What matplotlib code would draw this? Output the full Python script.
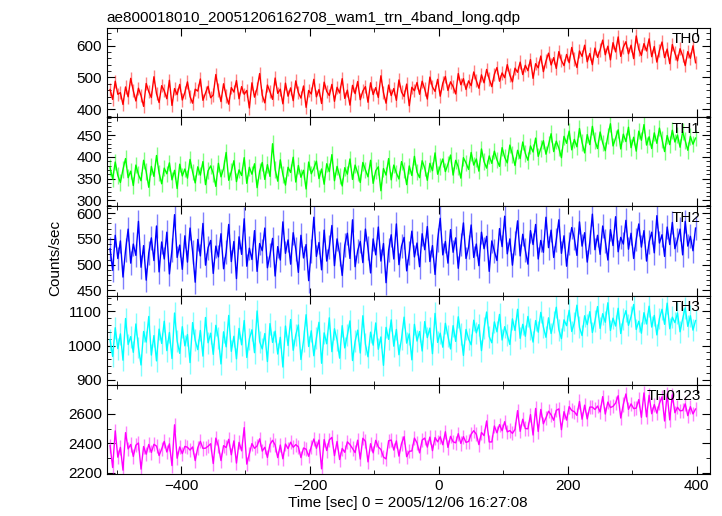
import numpy as np
import matplotlib
matplotlib.use("Agg")
import matplotlib.pyplot as plt
from matplotlib.ticker import MultipleLocator

plt.rcParams['font.family'] = ['Liberation Sans', 'DejaVu Sans']

title = "ae800018010_20051206162708_wam1_trn_4band_long.qdp"

# 4 s bins starting at -510 s
t_start = -510
t_bin = 4

th0 = [462, 431, 488, 447, 452, 415, 470, 439, 497, 458,
       426, 466, 443, 409, 481, 455, 437, 502, 449, 421,
       474, 458, 433, 491, 412, 465, 446, 478, 429, 453,
       486, 440, 419, 463, 457, 495, 428, 451, 472, 436,
       445, 509, 461, 424, 480, 442, 416, 468, 454, 490,
       433, 471, 447, 459, 404, 483, 438, 466, 512, 444,
       420, 476, 455, 431, 498, 450, 463, 417, 482, 441,
       467, 427, 489, 452, 435, 473, 406, 459, 448, 494,
       439, 462, 418, 485, 456, 443, 478, 425, 469, 451,
       496, 434, 460, 413, 475, 449, 487, 430, 457, 471,
       422, 483, 446, 468, 437, 505, 452, 419, 476, 443,
       465, 428, 492, 454, 440, 479, 411, 469, 458, 484,
       447, 488, 463, 432, 501, 470, 456, 494, 441, 482,
       503, 459, 486, 471, 448, 512, 477, 496, 462, 489,
       474, 517, 490, 466, 508, 483, 525, 495, 471, 510,
       531, 488, 514, 499, 540, 507, 486, 529, 516, 548,
       509, 538, 521, 556, 497, 543, 530, 567, 518, 551,
       576, 539, 562, 528, 581, 553, 537, 572, 546, 594,
       558, 531, 583, 566, 601, 549, 575, 540, 592, 563,
       586, 617, 571, 598, 555, 609, 580, 627, 566, 595,
       612, 574, 601, 559, 630, 588, 569, 606, 583, 621,
       565, 597, 548, 584, 611, 562, 589, 543, 603, 576,
       552, 590, 568, 537, 581, 560, 599, 546]

th1 = [375, 349, 388, 357, 341, 371, 396, 352, 367, 334,
       381, 359, 345, 392, 366, 330, 378, 355, 403, 363,
       338, 374, 361, 386, 347, 369, 327, 383, 356, 372,
       351, 394, 365, 340, 377, 358, 389, 336, 368, 379,
       362, 332, 385, 354, 373, 410, 346, 366, 391, 343,
       370, 357, 398, 339, 376, 360, 384, 329, 367, 387,
       348, 382, 355, 430, 371, 344, 393, 359, 335, 376,
       364, 399, 342, 380, 353, 369, 326, 388, 361, 374,
       390, 350, 372, 337, 384, 366, 405, 345, 378, 356,
       333, 375, 360, 395, 348, 381, 363, 341, 387, 370,
       354, 392, 339, 368, 377, 322, 373, 358, 396, 347,
       381, 363, 349, 389, 370, 336, 379, 357, 401, 365,
       352, 391, 374, 346, 385, 368, 409, 360, 378, 395,
       366, 383, 404, 358, 392, 377, 351, 398, 386, 371,
       410, 381, 395, 367, 418, 389, 374, 402, 385, 413,
       393, 378, 421, 399, 386, 427, 405, 380, 415, 396,
       434, 408, 392, 425, 411, 443, 401, 419, 437, 406,
       428, 453, 412, 436, 420, 398, 447, 431, 459, 416,
       440, 423, 465, 433, 409, 451, 428, 470, 437, 419,
       457, 432, 414, 448, 476, 425, 443, 462, 418, 452,
       435, 468, 421, 445, 413, 459, 438, 474, 427, 446,
       419, 455, 431, 466, 440, 412, 449, 428, 461, 434,
       450, 422, 458, 437, 415, 447, 429, 443]

th2 = [531, 489, 557, 512, 546, 476, 528, 569, 503, 540,
       518, 584, 495, 537, 470, 523, 552, 508, 575, 486,
       544, 511, 563, 482, 529, 597, 514, 538, 491, 556,
       505, 571, 525, 466, 549, 517, 580, 499, 533, 547,
       483, 536, 515, 560, 492, 524, 578, 506, 545, 473,
       554, 520, 589, 497, 532, 510, 566, 487, 541, 527,
       571, 494, 519, 551, 478, 535, 509, 583, 522, 548,
       501, 562, 530, 485, 557, 513, 539, 469, 526, 592,
       516, 543, 490, 567, 507, 534, 576, 498, 550, 521,
       479, 538, 561, 512, 587, 496, 527, 545, 504, 569,
       532, 484, 550, 519, 573, 507, 541, 465, 528, 558,
       511, 579, 500, 536, 553, 488, 523, 565, 515, 542,
       496, 560, 529, 574, 506, 537, 481, 548, 590, 519,
       545, 503, 568, 524, 552, 493, 539, 581, 512, 534,
       577, 514, 540, 498, 563, 531, 555, 487, 546, 526,
       508, 570, 535, 594, 521, 550, 499, 542, 585, 517,
       559, 528, 501, 566, 539, 578, 511, 547, 524, 592,
       533, 567, 514, 548, 587, 522, 556, 497, 541, 572,
       551, 518, 583, 536, 562, 505, 544, 598, 529, 557,
       520, 575, 546, 509, 568, 537, 593, 525, 553, 540,
       586, 530, 561, 512, 549, 579, 534, 566, 507, 544,
       563, 523, 595, 542, 558, 516, 573, 539, 582, 531,
       548, 569, 519, 584, 536, 555, 527, 571]

th3 = [1017, 968, 1052, 991, 1034, 957, 1079, 1003, 1026, 980,
       1063, 994, 943, 1041, 1010, 1085, 972, 1029, 955, 1048,
       1006, 1071, 985, 1038, 962, 1095, 1013, 977, 1055, 999,
       1032, 950, 1067, 1015, 988, 1044, 969, 1082, 1008, 1036,
       974, 1059, 1021, 946, 1040, 996, 1088, 983, 1027, 961,
       1050, 1002, 1073, 965, 1019, 1046, 979, 1101, 1011, 990,
       1035, 953, 1064, 1009, 1042, 975, 1024, 937, 1057, 1000,
       1076, 986, 1031, 1060, 959, 1014, 1090, 997, 1043, 970,
       1022, 1068, 948, 1037, 1005, 1081, 982, 1049, 1016, 963,
       1058, 993, 1030, 1072, 956, 1012, 1045, 978, 1087, 1004,
       967, 1039, 1001, 1066, 989, 1025, 942, 1053, 1018, 1075,
       998, 1047, 973, 1020, 1083, 1007, 1034, 958, 1062, 1013,
       1041, 984, 1070, 1023, 1051, 976, 1094, 1009, 1036, 995,
       1065, 1028, 990, 1058, 1012, 1084, 1033, 971, 1047, 1019,
       1002, 1074, 1037, 1061, 985, 1050, 1098, 1026, 1008, 1069,
       1040, 1091, 1016, 1055, 1031, 1003, 1078, 1044, 1106, 1021,
       1062, 1027, 1085, 1048, 1010, 1073, 1039, 1097, 1054, 1024,
       1081, 1035, 1069, 1112, 1046, 1020, 1075, 1058, 1103, 1041,
       1066, 1118, 1053, 1029, 1087, 1061, 1099, 1038, 1072, 1114,
       1050, 1093, 1068, 1125, 1044, 1080, 1057, 1109, 1035, 1077,
       1102, 1059, 1085, 1120, 1047, 1071, 1036, 1096, 1063, 1115,
       1054, 1088, 1031, 1079, 1106, 1062, 1124, 1049, 1083, 1067,
       1095, 1040, 1078, 1110, 1056, 1087, 1045, 1073]

# TH0123 is the sum of the four bands
th0123 = np.array(th0) + np.array(th1) + np.array(th2) + np.array(th3)
time = t_start + t_bin * np.arange(len(th0))

names = ["TH0", "TH1", "TH2", "TH3", "TH0123"]
series = [th0, th1, th2, th3, th0123]
errors = [21, 19, 23, 32, 48]
colors = ["#ff0000", "#00ff00", "#0000ff", "#00ffff", "#ff00ff"]
ylims = [(375, 655), (286, 491), (440, 613), (885, 1146), (2193, 2797)]
major = [100, 50, 50, 100, 200]
minor = [20, 10, 10, 20, 100]

fig, axes = plt.subplots(5, 1, figsize=(7.22, 5.16), dpi=100, sharex=True)
fig.subplots_adjust(left=0.148, right=0.983, bottom=0.0814, top=0.9457, hspace=0)

for i, ax in enumerate(axes):
    y = np.array(series[i])
    ax.errorbar(time, y, yerr=errors[i], color=colors[i], ecolor=colors[i],
                elinewidth=1.0, alpha=0.5, lw=0, capsize=0)
    ax.plot(time, y, color=colors[i], lw=1.0)
    ax.set_ylim(ylims[i])
    ax.set_xlim(-515, 420)
    ax.yaxis.set_major_locator(MultipleLocator(major[i]))
    ax.yaxis.set_minor_locator(MultipleLocator(minor[i]))
    ax.xaxis.set_major_locator(MultipleLocator(200))
    ax.xaxis.set_minor_locator(MultipleLocator(100))
    ax.tick_params(which='both', direction='in', top=True, right=True, labelsize=11)
    ax.tick_params(which='major', length=6)
    ax.tick_params(which='minor', length=3)
    ax.text(0.985, 0.95, names[i], transform=ax.transAxes, ha='right', va='top', fontsize=11)

axes[0].set_title(title, loc='left', fontsize=11, pad=4)
axes[-1].set_xlabel("Time [sec] 0 = 2005/12/06 16:27:08", fontsize=11, labelpad=2)
fig.text(0.076, 0.5, "Counts/sec", rotation=90, ha='center', va='center', fontsize=11)

plt.savefig("out.png")
